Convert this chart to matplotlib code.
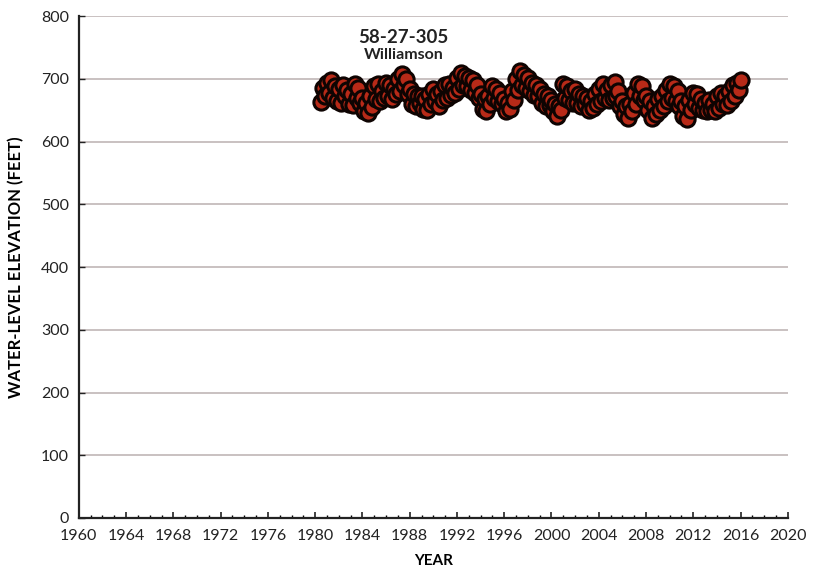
import numpy as np
import matplotlib.pyplot as plt
from matplotlib.ticker import MultipleLocator

# Well 58-27-305 (Williamson) water-level record
# (roughly one reading every two months, starting mid-1980)
levels = [
    663, 685, 672,
    694, 678, 698, 670, 688, 665,
    684, 662, 690, 672, 682, 660,
    676, 658, 692, 670, 686, 662,
    670, 648, 662, 646, 672, 655,
    688, 668, 692, 664, 680, 670,
    694, 672, 690, 668, 684, 676,
    700, 680, 708, 690, 700, 676,
    684, 660, 676, 656, 672, 662,
    672, 652, 668, 650, 676, 660,
    684, 664, 676, 656, 680, 666,
    690, 670, 692, 674, 686, 678,
    702, 684, 710, 690, 704, 688,
    702, 682, 698, 678, 690, 670,
    676, 652, 668, 648, 672, 660,
    688, 670, 684, 664, 678, 660,
    668, 648, 662, 652, 680, 666,
    700, 682, 712, 690, 706, 686,
    702, 680, 694, 674, 690, 672,
    684, 662, 676, 656, 672, 658,
    666, 648, 660, 640, 656, 650,
    692, 670, 688, 666, 680, 662,
    684, 662, 676, 656, 672, 660,
    670, 650, 664, 654, 676, 660,
    684, 664, 692, 670, 682, 666,
    690, 670, 695, 672, 680, 656,
    664, 644, 656, 638, 660, 648,
    678, 660, 692, 672, 688, 666,
    672, 650, 664, 638, 656, 644,
    668, 650, 672, 656, 682, 664,
    692, 670, 688, 664, 680, 656,
    664, 640, 656, 636, 666, 650,
    678, 660, 676, 654, 668, 650,
    662, 648, 666, 650, 660, 648,
    672, 654, 678, 660, 672, 658,
    680, 664, 690, 672, 694, 682,
    698,
]
years = 1980.5 + np.arange(len(levels)) / 6.0
well_id = "58-27-305"
county = "Williamson"

plt.rcParams["font.family"] = ["Lato", "DejaVu Sans"]

fig = plt.figure(figsize=(8.13, 5.74), dpi=100)
ax = fig.add_axes([0.097, 0.0976, 0.872, 0.8744])

# heavy black rims over a red fill: overlapping readings read as a dark band
ax.scatter(years, levels, s=120, color="#b82a18", edgecolor="#0e0402",
           linewidth=2.2, zorder=3, clip_on=False)

ax.set_xlim(1960, 2020)
ax.set_ylim(0, 800)
ax.xaxis.set_major_locator(MultipleLocator(4))
ax.xaxis.set_minor_locator(MultipleLocator(1))
ax.yaxis.set_major_locator(MultipleLocator(100))

ax.grid(axis="y", color="#c9c1c1", linewidth=1.4, zorder=0)
for side in ("top", "right"):
    ax.spines[side].set_visible(False)
for side in ("left", "bottom"):
    ax.spines[side].set_linewidth(1.6)
    ax.spines[side].set_color("#222222")

ax.tick_params(axis="x", which="major", direction="in", length=4, width=1.2,
               labelsize=11.5, pad=8, colors="#222222")
ax.tick_params(axis="x", which="minor", direction="in", length=2.5, width=1)
ax.tick_params(axis="y", direction="in", length=4, width=1,
               labelsize=11.5, pad=7, colors="#222222")

ax.set_xlabel("YEAR", fontsize=11, fontweight="bold", labelpad=8)
ax.set_ylabel("WATER-LEVEL ELEVATION (FEET)", fontsize=12,
              fontweight="bold", labelpad=12)

ax.text(1987.5, 766, well_id, ha="center", va="center",
        fontsize=13.5, fontweight="bold", color="#222222")
ax.text(1987.5, 738, county, ha="center", va="center",
        fontsize=11.5, fontweight="bold", color="#222222")

fig.savefig("out.png", dpi=100)
plt.close(fig)
